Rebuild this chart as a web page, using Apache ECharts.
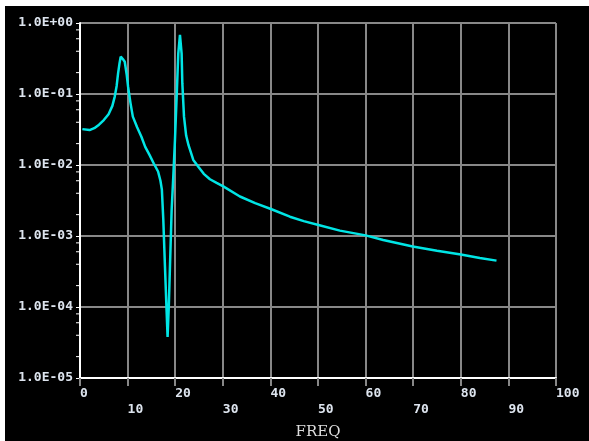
<!DOCTYPE html>
<html>
<head>
<meta charset="utf-8">
<script src="https://cdn.jsdelivr.net/npm/echarts@6/dist/echarts.min.js"></script>
<style>
  html, body { margin: 0; padding: 0; background: #fff; }
  #chart { position: absolute; left: 5px; top: 6px; width: 584px; height: 435px; background: #000; }
</style>
</head>
<body>
<div id="chart"></div>
<script>
// frequency (x) and amplitude (y, log)
const freq = [0.5, 2, 3, 4, 5, 6, 6.8, 7.3, 7.7, 8.0, 8.3, 8.55, 9.0, 9.4, 9.8, 10.1, 10.6, 11.1, 12.0, 12.9, 13.7,
  14.6, 15.5, 16.4, 16.9, 17.2, 17.5, 17.85, 18.2, 18.4,
  18.65, 18.9, 19.25, 19.6, 19.95, 20.3, 20.65, 21.0, 21.35, 21.5, 21.85, 22.3, 22.8, 23.8, 24.9, 26.0, 27.3,
  28.7, 30.1, 33.6, 36.8, 40.1, 44.1, 47.0, 50.1, 54.6, 60.0, 63.7, 69.9, 75.0, 80.0, 84.0, 87.5];
const amp = [0.032, 0.031, 0.033, 0.037, 0.043, 0.052, 0.068, 0.092, 0.13, 0.195, 0.27, 0.336, 0.31, 0.285, 0.19,
  0.127, 0.075, 0.048, 0.034, 0.025, 0.018,
  0.0139, 0.0105, 0.0081, 0.006, 0.0045, 0.0017, 0.00037, 0.000086, 0.000038,
  0.0001, 0.00037, 0.0023, 0.0069, 0.0225, 0.09, 0.374, 0.68, 0.37, 0.141, 0.048, 0.026, 0.019, 0.0118, 0.0094,
  0.0075, 0.0063, 0.0056, 0.005, 0.0036, 0.0029, 0.0024, 0.00187, 0.00162, 0.00143, 0.00119, 0.00102, 0.00088,
  0.00071, 0.00062, 0.00055, 0.00049, 0.00045];
// small ticks on the log axis (2,4,6,8 of each decade)
const minorTicks = [];
[1e-5, 1e-4, 1e-3, 1e-2, 1e-1].forEach(d => [2, 4, 6, 8].forEach(m => minorTicks.push(m * d)));

const fmtExp = v => {
  const e = Math.round(Math.log10(v));
  const s = e < 0 ? '-' : '+';
  return '1.0E' + s + String(Math.abs(e)).padStart(2, '0');
};

const myChart = echarts.init(document.getElementById('chart'));
const option = {
  backgroundColor: '#000',
  animation: false,
  grid: { left: 75, top: 17, right: 33, bottom: 63, containLabel: false, outerBoundsMode: 'none' },
  xAxis: {
    type: 'value',
    min: 0,
    max: 100,
    interval: 10,
    name: 'FREQ',
    nameLocation: 'middle',
    nameGap: 47,
    nameTextStyle: { fontFamily: 'DejaVu Serif', fontSize: 15, color: '#dedede' },
    axisLine: { onZero: false, lineStyle: { color: '#fff', width: 2 } },
    axisTick: { show: true, length: 8, lineStyle: { color: '#888', width: 2 } },
    axisLabel: {
      align: 'left',
      margin: 8,
      lineHeight: 16,
      fontFamily: 'DejaVu Sans Mono',
      fontWeight: 'bold',
      fontSize: 13,
      color: '#dde4ee',
      formatter: v => (v % 20 === 10 ? '\n' + v : String(v))
    },
    splitLine: { show: true, lineStyle: { color: '#888', width: 2 } }
  },
  yAxis: {
    type: 'log',
    logBase: 10,
    min: 1e-5,
    max: 1,
    axisLine: { onZero: false, lineStyle: { color: '#fff', width: 2 } },
    axisTick: { show: true, length: 4, lineStyle: { color: '#fff', width: 1 } },
    axisLabel: {
      margin: 7,
      padding: [0, 0, 7, 0],
      fontFamily: 'DejaVu Sans Mono',
      fontWeight: 'bold',
      fontSize: 13,
      color: '#dde4ee',
      formatter: fmtExp
    },
    splitLine: { show: true, lineStyle: { color: '#888', width: 2 } }
  },
  series: [
    {
      type: 'custom',
      silent: true,
      data: minorTicks.map(v => [0, v]),
      renderItem: (params, api) => {
        const p = api.coord([0, api.value(1)]);
        return {
          type: 'line',
          shape: { x1: p[0] - 4, y1: p[1], x2: p[0], y2: p[1] },
          style: { stroke: '#fff', lineWidth: 1 }
        };
      }
    },
    {
      type: 'line',
      showSymbol: false,
      data: freq.map((f, i) => [f, amp[i]]),
      lineStyle: { color: '#00e5e5', width: 2.5 },
      itemStyle: { color: '#00e5e5' }
    }
  ]
};
option && myChart.setOption(option);
</script>
</body>
</html>
